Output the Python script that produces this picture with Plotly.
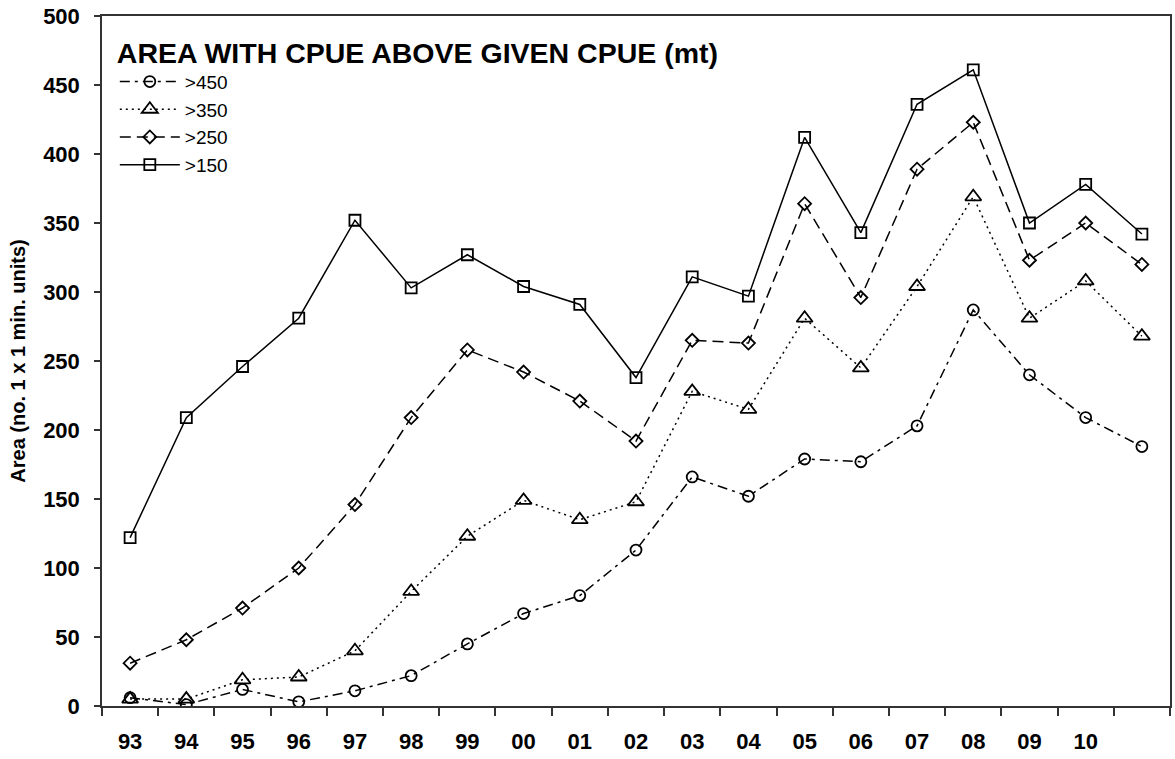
import plotly.graph_objects as go

# Season labels (the final season has no label on the axis)
seasons = ["93", "94", "95", "96", "97", "98", "99", "00", "01", "02",
           "03", "04", "05", "06", "07", "08", "09", "10", " "]

# Area (no. of 1 x 1 min. units) with CPUE above each threshold
area_gt450 = [6, 1, 12, 3, 11, 22, 45, 67, 80, 113, 166, 152, 179, 177, 203, 287, 240, 209, 188]
area_gt350 = [5, 5, 19, 21, 40, 83, 123, 149, 135, 148, 228, 215, 281, 245, 304, 369, 281, 308, 268]
area_gt250 = [31, 48, 71, 100, 146, 209, 258, 242, 221, 192, 265, 263, 364, 296, 389, 423, 323, 350, 320]
area_gt150 = [122, 209, 246, 281, 352, 303, 327, 304, 291, 238, 311, 297, 412, 343, 436, 461, 350, 378, 342]

series = [
    (">450", area_gt450, "circle-open", 11, "10px,5px,3px,5px"),
    (">350", area_gt350, "triangle-up-open", 14, "2px,4px"),
    (">250", area_gt250, "diamond-open", 10, "11px,6px"),
    (">150", area_gt150, "square-open", 11, "solid"),
]

fig = go.Figure()
for name, vals, symbol, msize, dash in series:
    fig.add_trace(go.Scatter(
        x=seasons, y=vals, name=name, mode="lines+markers",
        line=dict(color="black", width=1.5, dash=dash),
        marker=dict(symbol=symbol, size=msize, color="black",
                    line=dict(color="black", width=1.8)),
    ))

fig.update_layout(
    width=1175, height=759,
    margin=dict(l=102, r=3, t=16, b=53),
    paper_bgcolor="white", plot_bgcolor="white",
    font=dict(family="Liberation Sans, Arial, sans-serif", color="black"),
    showlegend=True,
    legend=dict(
        x=0.012, y=0.986, xanchor="left", yanchor="top",
        bgcolor="rgba(0,0,0,0)", borderwidth=0,
        font=dict(size=19, color="black"),
        title=dict(text="<b>AREA WITH CPUE ABOVE GIVEN CPUE (mt)</b>",
                   font=dict(size=28.5, color="black"), side="top"),
        tracegroupgap=0, itemwidth=60,
    ),
    xaxis=dict(
        type="category", tickson="boundaries",
        range=[-0.5, 18.5],
        showline=True, linecolor="#333", linewidth=2, mirror=True,
        ticks="outside", ticklen=8, tickcolor="#333", tickwidth=1.5,
        tickfont=dict(size=22, family="Liberation Sans, Arial, sans-serif"),
        ticklabelstandoff=15,
        showgrid=False, zeroline=False,
    ),
    yaxis=dict(
        range=[0, 500], dtick=50, tick0=0,
        showline=True, linecolor="#333", linewidth=1.5, mirror=True,
        ticks="outside", ticklen=6, tickcolor="#333", tickwidth=1.5,
        tickfont=dict(size=22, family="Liberation Sans, Arial, sans-serif"),
        tickformat="d", ticklabelstandoff=10,
        showgrid=False, zeroline=False,
        title=dict(text="<b>Area (no. 1 x 1 min. units)</b>",
                   font=dict(size=20), standoff=12),
    ),
)

# bold tick labels
fig.update_xaxes(tickfont=dict(weight="bold"))
fig.update_yaxes(tickfont=dict(weight="bold"))

fig.write_html("out.html")
